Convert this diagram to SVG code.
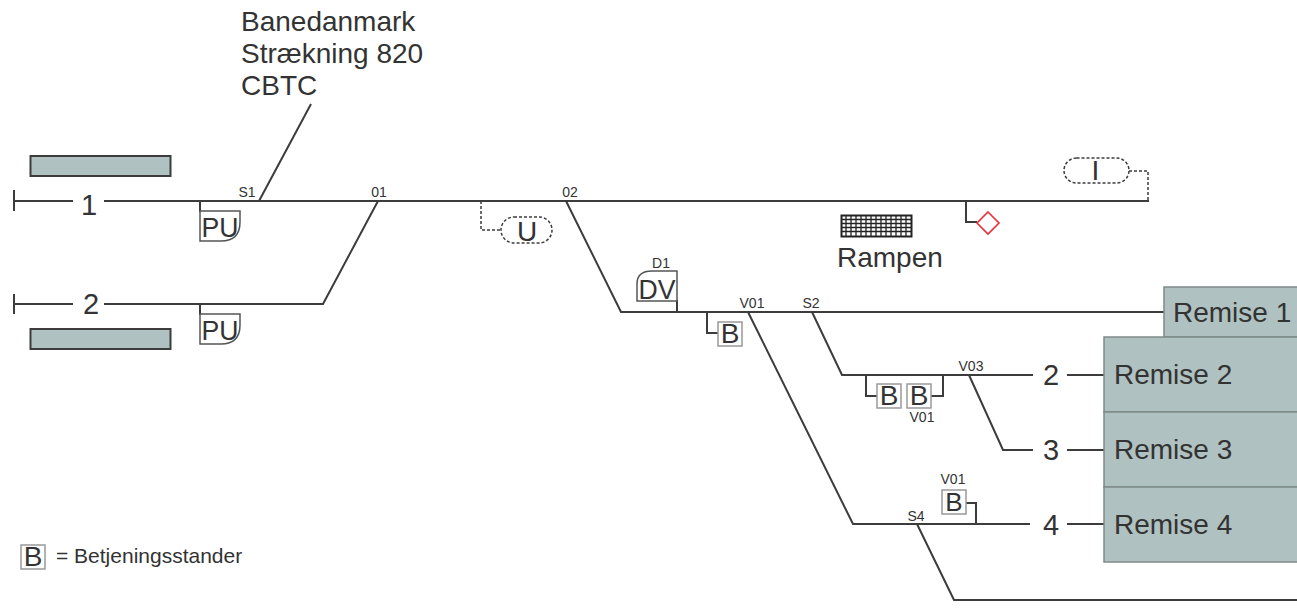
<svg xmlns="http://www.w3.org/2000/svg" width="1297" height="611" viewBox="0 0 1297 611">
<style>
text{font-family:"Liberation Sans",Arial,sans-serif;fill:#333}
.t{fill:none;stroke:#3c3c3c;stroke-width:2}
.d{fill:none;stroke:#3c3c3c;stroke-width:1.5;stroke-dasharray:3 2}
.s{font-size:14px;text-anchor:middle}
.n{font-size:29px;text-anchor:middle}
.l{font-size:28px}
.sym{fill:#fff;stroke:#555;stroke-width:1.5}
.b{fill:#fff;stroke:#999;stroke-width:1.5}
.bt{font-size:28px;text-anchor:middle}
.g{fill:#afc1c0;stroke:#3c3c3c;stroke-width:2}
.r{fill:#afc1c0;stroke:#7d8a89;stroke-width:1.5}
</style>
<rect width="1297" height="611" fill="#fff"/>
<g id="connectors">
<path class="t" d="M14 190V211M14 201H73M104 201H1149M14 294V314M14 304H73M104 304H323L378 201"/>
<path class="t" d="M259 201L311 104"/>
<path class="t" d="M566 201L621 312H1164"/>
<path class="t" d="M748 312L853 524H1030M1067 524H1104"/>
<path class="t" d="M812 312L842 375H1033M1067 375H1104"/>
<path class="t" d="M969 375L1003 450H1033M1067 450H1104"/>
<path class="t" d="M917 524L954 600H1297"/>
<path class="t" d="M200 201V212M200 304V315M677 312V300M707 312V333H719M866 375V396H878M943 375V396H931M976 524V503H965M966 201V222H977"/>
<path class="d" d="M481 201V230H501M1129 171H1148V201"/>
</g>
<g id="platform-1"><rect class="g" x="30.500" y="156" width="140" height="20"/></g>
<g id="platform-2"><rect class="g" x="30.500" y="329" width="140" height="20"/></g>
<g id="track-1"><text class="n" x="89" y="215">1</text></g>
<g id="track-2"><text class="n" x="91" y="314">2</text></g>
<g id="pu-1"><path class="sym" d="M200 211H240V222Q240 241 221 241H200Z"/><text class="bt" x="220" y="237" textLength="37" lengthAdjust="spacingAndGlyphs">PU</text></g>
<g id="pu-2"><path class="sym" d="M200 314H240V325Q240 344 221 344H200Z"/><text class="bt" x="220" y="340" textLength="37" lengthAdjust="spacingAndGlyphs">PU</text></g>
<g id="label-strekning"><text class="l" x="241" y="31">Banedanmark</text><text class="l" x="241" y="63">Strækning 820</text><text class="l" x="241" y="95">CBTC</text></g>
<g id="label-s1"><text class="s" x="247" y="197">S1</text></g>
<g id="label-01"><text class="s" x="379" y="197">01</text></g>
<g id="label-02"><text class="s" x="570" y="197">02</text></g>
<g id="u"><rect class="d" x="501" y="217" width="51" height="26" rx="13" fill="#fff"/><text class="bt" x="527" y="241">U</text></g>
<g id="i"><rect class="d" x="1064" y="158" width="65" height="25" rx="12.500" fill="#fff"/><text class="bt" x="1095.500" y="180">I</text></g>
<g id="rampen">
<rect x="841.500" y="215.500" width="70" height="21" fill="#fff" stroke="#222" stroke-width="2"/>
<path stroke="#222" stroke-width="1.300" fill="none" d="M846 216V236M851 216V236M856 216V236M861 216V236M866 216V236M871 216V236M876 216V236M881 216V236M886 216V236M891 216V236M896 216V236M901 216V236M906 216V236M842 219.500H911M842 223.500H911M842 227.500H911M842 231.500H911"/>
<text x="837" y="267" font-size="28">Rampen</text>
</g>
<g id="diamond"><path d="M988 212L999 223L988 234L977 223Z" fill="#fff" stroke="#e8303a" stroke-width="1.600"/></g>
<g id="dv"><text class="s" x="661" y="268">D1</text><path class="sym" d="M637 301V284Q637 271 652 271H677V301Z" stroke="#3c3c3c"/><text class="bt" x="657" y="299" textLength="37" lengthAdjust="spacingAndGlyphs">DV</text></g>
<g id="b-1"><rect class="b" x="718" y="322" width="24" height="24"/><text class="bt" x="730" y="343">B</text></g>
<g id="label-v01"><text class="s" x="752" y="308">V01</text></g>
<g id="label-s2"><text class="s" x="811" y="308">S2</text></g>
<g id="b-2"><rect class="b" x="877" y="384" width="24" height="24"/><text class="bt" x="889" y="405">B</text></g>
<g id="b-3"><rect class="b" x="907" y="384" width="24" height="24"/><text class="bt" x="919" y="405">B</text></g>
<g id="label-v01b"><text class="s" x="922" y="422">V01</text></g>
<g id="label-v03"><text class="s" x="971" y="371">V03</text></g>
<g id="track-r2"><text class="n" x="1051" y="385">2</text></g>
<g id="track-r3"><text class="n" x="1051" y="460">3</text></g>
<g id="track-r4"><text class="n" x="1051" y="535">4</text></g>
<g id="b-4"><rect class="b" x="942" y="490" width="24" height="24"/><text class="bt" x="954" y="511" style="font-size:26px">B</text></g>
<g id="label-v01c"><text class="s" x="953" y="484">V01</text></g>
<g id="label-s4"><text class="s" x="916" y="521">S4</text></g>
<g id="remise-1"><rect class="r" x="1164" y="287" width="134" height="50"/><text class="l" x="1173" y="322">Remise 1</text></g>
<g id="remise-2"><rect class="r" x="1104" y="337" width="194" height="75"/><text class="l" x="1114" y="384">Remise 2</text></g>
<g id="remise-3"><rect class="r" x="1104" y="412" width="194" height="75"/><text class="l" x="1114" y="459">Remise 3</text></g>
<g id="remise-4"><rect class="r" x="1104" y="487" width="194" height="75"/><text class="l" x="1114" y="534">Remise 4</text></g>
<g id="legend"><rect class="b" x="21" y="545" width="24" height="24"/><text class="bt" x="33" y="566">B</text><text x="56" y="563" font-size="21">= Betjeningsstander</text></g>
</svg>
